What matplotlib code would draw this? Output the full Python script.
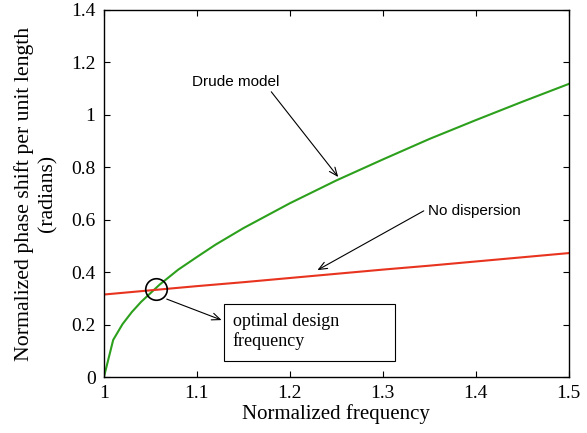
import matplotlib
matplotlib.use("Agg")
import matplotlib.pyplot as plt
from matplotlib.patches import Rectangle

# valeurs
freq_drude = [1.0, 1.01, 1.02, 1.03, 1.04, 1.05, 1.06, 1.08, 1.10, 1.12,
              1.15, 1.20, 1.25, 1.30, 1.35, 1.40, 1.45, 1.50]
phase_drude = [0.0, 0.142, 0.202, 0.248, 0.287, 0.320, 0.353, 0.410, 0.458, 0.505,
               0.568, 0.663, 0.750, 0.830, 0.908, 0.980, 1.050, 1.118]

freq_nodisp = [1.0, 1.05, 1.10, 1.15, 1.20, 1.25, 1.30, 1.35, 1.40, 1.45, 1.50]
phase_nodisp = [0.315, 0.331, 0.347, 0.362, 0.378, 0.394, 0.410, 0.425, 0.441, 0.457, 0.473]

opt_freq = 1.056
opt_phase = 0.335

serif = "Liberation Serif"
sans = "Liberation Sans"

fig = plt.figure(figsize=(5.87, 4.33), dpi=100)
ax = fig.add_axes([0.177, 0.129, 0.792, 0.848])

ax.plot(freq_drude, phase_drude, color="#2ca01c", lw=1.5)
ax.plot(freq_nodisp, phase_nodisp, color="#e8331f", lw=1.5)
ax.plot([opt_freq], [opt_phase], "o", ms=15.5, mfc="none", mec="black", mew=1.2)

ax.set_xlim(1, 1.5)
ax.set_ylim(0, 1.4)
ax.set_xticks([1, 1.1, 1.2, 1.3, 1.4, 1.5])
ax.set_xticklabels(["1", "1.1", "1.2", "1.3", "1.4", "1.5"])
ax.set_yticks([0, 0.2, 0.4, 0.6, 0.8, 1, 1.2, 1.4])
ax.set_yticklabels(["0", "0.2", "0.4", "0.6", "0.8", "1", "1.2", "1.4"])
ax.tick_params(direction="in", top=True, right=True, length=4, width=0.8,
               labelsize=14, pad=6)
for lab in ax.get_xticklabels() + ax.get_yticklabels():
    lab.set_fontfamily(serif)
for sp in ax.spines.values():
    sp.set_linewidth(1.0)

ax.set_xlabel("Normalized frequency", fontsize=15, family=serif, labelpad=1)
ax.set_ylabel("Normalized phase shift per unit length\n(radians)", fontsize=15.7,
              family=serif, labelpad=9.5, linespacing=1.3)

arrow = dict(arrowstyle="->,head_length=0.6,head_width=0.25", color="black",
             lw=0.8, shrinkA=0, shrinkB=0)

ax.text(1.1416, 1.127, "Drude model", fontsize=11, family=sans,
        ha="center", va="center")
ax.annotate("", xy=(1.252, 0.763), xytext=(1.180, 1.088), arrowprops=arrow)

ax.text(1.349, 0.634, "No dispersion", fontsize=11, family=sans,
        ha="left", va="center")
ax.annotate("", xy=(1.2296, 0.408), xytext=(1.344, 0.634), arrowprops=arrow)

ax.add_patch(Rectangle((1.1288, 0.061), 0.1845, 0.2175, fc="white",
                       ec="black", lw=0.8, zorder=3))
ax.text(1.1384, 0.1755, "optimal design\nfrequency", fontsize=13, family=serif,
        ha="left", va="center", linespacing=1.15, zorder=4)
ax.annotate("", xy=(1.1266, 0.2175), xytext=(1.0676, 0.2976), arrowprops=arrow)

fig.savefig("out.png", dpi=100)
